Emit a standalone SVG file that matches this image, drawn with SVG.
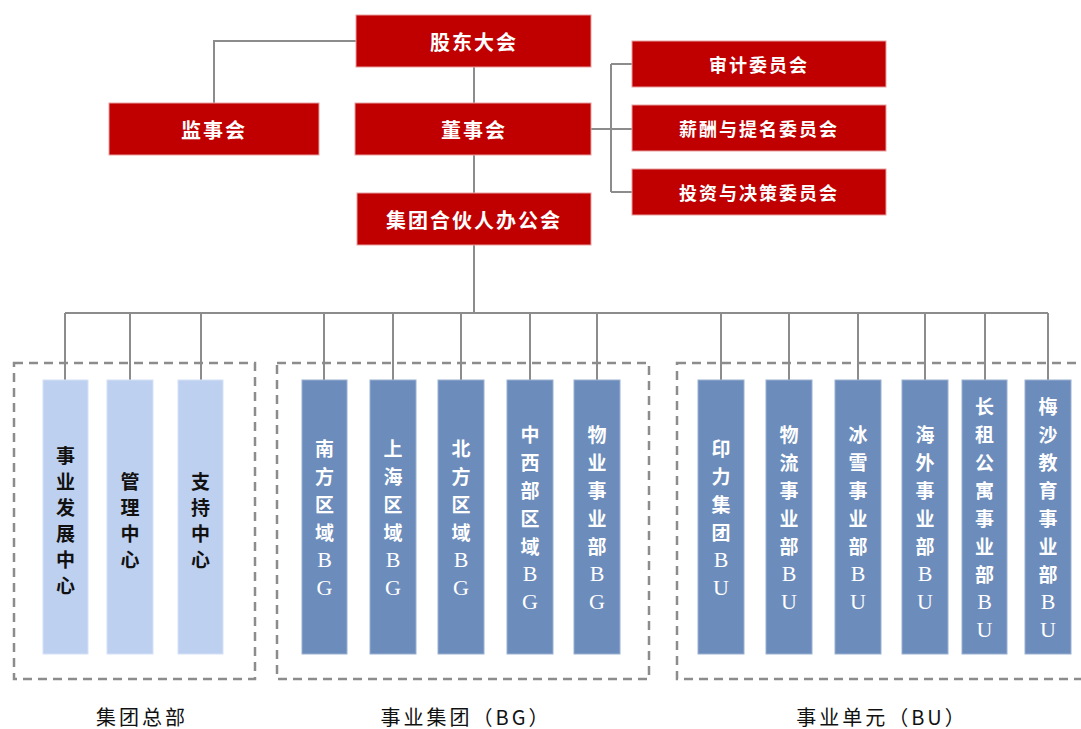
<svg xmlns="http://www.w3.org/2000/svg" width="1081" height="729" viewBox="0 0 1081 729">
<style>
.red{fill:#C00000;stroke:#E8A0A0;stroke-width:1}
.lb{fill:#BED0F0;stroke:#D6E2F6;stroke-width:1}
.mb{fill:#6C8CBB;stroke:#9AB0D2;stroke-width:1}
.conn{fill:none;stroke:#8C8C8C;stroke-width:2}
.dash{fill:none;stroke:#8C8C8C;stroke-width:2.5;stroke-dasharray:9 6}
.t{font-family:"Noto Sans CJK SC",sans-serif;font-weight:bold;text-anchor:middle;dominant-baseline:central}
.tw{fill:#FFFFFF;font-size:20px;letter-spacing:2px}
.tc{fill:#FFFFFF;font-size:18px;letter-spacing:2px}
.v{font-size:19px}
.vw{fill:#FFFFFF}
.vk{fill:#111111}
.lat{font-family:"Liberation Serif",serif;font-weight:normal;font-size:22px}
.lab{font-family:"Noto Sans CJK SC",sans-serif;font-size:20px;fill:#111;text-anchor:middle;dominant-baseline:central;letter-spacing:3px}
</style>
<rect width="1081" height="729" fill="#FFFFFF"/>
<g id="connectors">
<path class="conn" d="M356 41 H214 V103 M474 67 V103 M474 155 V193 M474 245 V313 M591 129 H611 M611 64 V192 M611 64 H632 M611 129 H632 M611 192 H632 M65 313 H1048 M65 313 V380 M130 313 V380 M201 313 V380 M324 313 V380 M393 313 V380 M461 313 V380 M530 313 V380 M597 313 V380 M721 313 V380 M789 313 V380 M858 313 V380 M925 313 V380 M985 313 V380 M1048 313 V380"/>
</g>
<g id="groups">
<rect class="dash" x="14" y="363" width="241" height="316"/>
<rect class="dash" x="277" y="363" width="372" height="316"/>
<rect class="dash" x="677" y="363" width="420" height="316"/>
</g>
<g id="n-gudong"><rect class="red" x="356" y="15" width="235" height="52"/><text class="t tw" x="474" y="41">股东大会</text></g>
<g id="n-jianshi"><rect class="red" x="109" y="103" width="210" height="52"/><text class="t tw" x="214" y="129">监事会</text></g>
<g id="n-dongshi"><rect class="red" x="355" y="103" width="236" height="52"/><text class="t tw" x="474" y="129">董事会</text></g>
<g id="n-hehuoren"><rect class="red" x="357" y="193" width="234" height="52"/><text class="t tw" x="474" y="219">集团合伙人办公会</text></g>
<g id="n-shenji"><rect class="red" x="632" y="41" width="254" height="46"/><text class="t tc" x="759" y="64">审计委员会</text></g>
<g id="n-xinchou"><rect class="red" x="632" y="105" width="254" height="46"/><text class="t tc" x="759" y="128">薪酬与提名委员会</text></g>
<g id="n-touzi"><rect class="red" x="632" y="169" width="254" height="46"/><text class="t tc" x="759" y="192">投资与决策委员会</text></g>

<g id="n-fazhan"><rect class="lb" x="43" y="380" width="45" height="274"/>
<text class="t v vk"><tspan x="65.5" y="454">事</tspan><tspan x="65.5" y="480">业</tspan><tspan x="65.5" y="506">发</tspan><tspan x="65.5" y="532">展</tspan><tspan x="65.5" y="558">中</tspan><tspan x="65.5" y="584">心</tspan></text></g>
<g id="n-guanli"><rect class="lb" x="107" y="380" width="46" height="274"/>
<text class="t v vk"><tspan x="130" y="480">管</tspan><tspan x="130" y="506">理</tspan><tspan x="130" y="532">中</tspan><tspan x="130" y="558">心</tspan></text></g>
<g id="n-zhichi"><rect class="lb" x="178" y="380" width="45" height="274"/>
<text class="t v vk"><tspan x="200.5" y="480">支</tspan><tspan x="200.5" y="506">持</tspan><tspan x="200.5" y="532">中</tspan><tspan x="200.5" y="558">心</tspan></text></g>

<g id="n-nanfang"><rect class="mb" x="302" y="380" width="45" height="274"/>
<text class="t v vw"><tspan x="324.5" y="447">南</tspan><tspan x="324.5" y="475">方</tspan><tspan x="324.5" y="503">区</tspan><tspan x="324.5" y="531">域</tspan><tspan class="lat" x="324.5" y="559">B</tspan><tspan class="lat" x="324.5" y="587">G</tspan></text></g>
<g id="n-shanghai"><rect class="mb" x="370" y="380" width="46" height="274"/>
<text class="t v vw"><tspan x="393" y="447">上</tspan><tspan x="393" y="475">海</tspan><tspan x="393" y="503">区</tspan><tspan x="393" y="531">域</tspan><tspan class="lat" x="393" y="559">B</tspan><tspan class="lat" x="393" y="587">G</tspan></text></g>
<g id="n-beifang"><rect class="mb" x="438" y="380" width="46" height="274"/>
<text class="t v vw"><tspan x="461" y="447">北</tspan><tspan x="461" y="475">方</tspan><tspan x="461" y="503">区</tspan><tspan x="461" y="531">域</tspan><tspan class="lat" x="461" y="559">B</tspan><tspan class="lat" x="461" y="587">G</tspan></text></g>
<g id="n-zhongxibu"><rect class="mb" x="507" y="380" width="46" height="274"/>
<text class="t v vw"><tspan x="530" y="433">中</tspan><tspan x="530" y="461">西</tspan><tspan x="530" y="489">部</tspan><tspan x="530" y="517">区</tspan><tspan x="530" y="545">域</tspan><tspan class="lat" x="530" y="573">B</tspan><tspan class="lat" x="530" y="601">G</tspan></text></g>
<g id="n-wuye"><rect class="mb" x="574" y="380" width="46" height="274"/>
<text class="t v vw"><tspan x="597" y="433">物</tspan><tspan x="597" y="461">业</tspan><tspan x="597" y="489">事</tspan><tspan x="597" y="517">业</tspan><tspan x="597" y="545">部</tspan><tspan class="lat" x="597" y="573">B</tspan><tspan class="lat" x="597" y="601">G</tspan></text></g>

<g id="n-yinli"><rect class="mb" x="698" y="380" width="46" height="274"/>
<text class="t v vw"><tspan x="721" y="447">印</tspan><tspan x="721" y="475">力</tspan><tspan x="721" y="503">集</tspan><tspan x="721" y="531">团</tspan><tspan class="lat" x="721" y="559">B</tspan><tspan class="lat" x="721" y="587">U</tspan></text></g>
<g id="n-wuliu"><rect class="mb" x="766" y="380" width="46" height="274"/>
<text class="t v vw"><tspan x="789" y="433">物</tspan><tspan x="789" y="461">流</tspan><tspan x="789" y="489">事</tspan><tspan x="789" y="517">业</tspan><tspan x="789" y="545">部</tspan><tspan class="lat" x="789" y="573">B</tspan><tspan class="lat" x="789" y="601">U</tspan></text></g>
<g id="n-bingxue"><rect class="mb" x="835" y="380" width="46" height="274"/>
<text class="t v vw"><tspan x="858" y="433">冰</tspan><tspan x="858" y="461">雪</tspan><tspan x="858" y="489">事</tspan><tspan x="858" y="517">业</tspan><tspan x="858" y="545">部</tspan><tspan class="lat" x="858" y="573">B</tspan><tspan class="lat" x="858" y="601">U</tspan></text></g>
<g id="n-haiwai"><rect class="mb" x="902" y="380" width="46" height="274"/>
<text class="t v vw"><tspan x="925" y="433">海</tspan><tspan x="925" y="461">外</tspan><tspan x="925" y="489">事</tspan><tspan x="925" y="517">业</tspan><tspan x="925" y="545">部</tspan><tspan class="lat" x="925" y="573">B</tspan><tspan class="lat" x="925" y="601">U</tspan></text></g>
<g id="n-changzu"><rect class="mb" x="962" y="380" width="45" height="274"/>
<text class="t v vw"><tspan x="984.5" y="405">长</tspan><tspan x="984.5" y="433">租</tspan><tspan x="984.5" y="461">公</tspan><tspan x="984.5" y="489">寓</tspan><tspan x="984.5" y="517">事</tspan><tspan x="984.5" y="545">业</tspan><tspan x="984.5" y="573">部</tspan><tspan class="lat" x="984.5" y="601">B</tspan><tspan class="lat" x="984.5" y="629">U</tspan></text></g>
<g id="n-meisha"><rect class="mb" x="1025" y="380" width="46" height="274"/>
<text class="t v vw"><tspan x="1048" y="405">梅</tspan><tspan x="1048" y="433">沙</tspan><tspan x="1048" y="461">教</tspan><tspan x="1048" y="489">育</tspan><tspan x="1048" y="517">事</tspan><tspan x="1048" y="545">业</tspan><tspan x="1048" y="573">部</tspan><tspan class="lat" x="1048" y="601">B</tspan><tspan class="lat" x="1048" y="629">U</tspan></text></g>

<g id="labels">
<text class="lab" x="142" y="716">集团总部</text>
<text class="lab" x="466" y="716">事业集团（BG）</text>
<text class="lab" x="882" y="716">事业单元（BU）</text>
</g>
</svg>
